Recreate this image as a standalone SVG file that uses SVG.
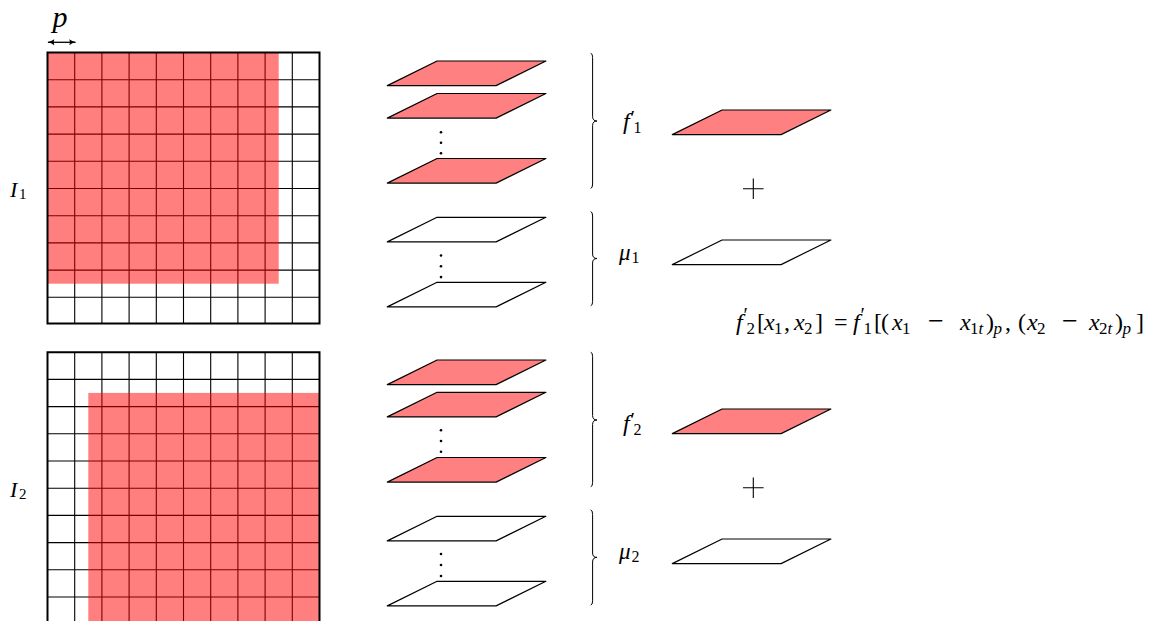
<svg xmlns="http://www.w3.org/2000/svg" width="1158" height="621" viewBox="0 0 1158 621">
<style>
.bg{fill:#fff}
.gl{stroke:#000;stroke-width:1.1;fill:none}
.gb{stroke:#000;stroke-width:2;fill:none}
.ov{fill:#ff0000;fill-opacity:0.5}
.pr{fill:#ff8080;stroke:#000;stroke-width:1.2;stroke-linejoin:round}
.pw{fill:#fff;stroke:#000;stroke-width:1.2;stroke-linejoin:round}
.br{fill:none;stroke:#000;stroke-width:1}
.i{font-style:italic}
.s{font-size:17px}
.pm{font-size:20px}
.mn{font-size:28px}
.dot{fill:#000}
.plus{stroke:#000;stroke-width:1.1}
</style>
<defs>
<polygon id="pl" points="0,24.6 108.8,24.6 158.6,0 49.8,0"/>
<marker id="ah" viewBox="0 0 10 10" refX="9" refY="5" markerWidth="7.5" markerHeight="7" orient="auto-start-reverse" markerUnits="userSpaceOnUse">
<path d="M0,0.8 Q4,4 10,5 Q4,6 0,9.2 Q2,5 0,0.8 Z" fill="#000"/>
</marker>
</defs>
<rect class="bg" x="0" y="0" width="1158" height="621"/>

<g id="grid1">
<path class="gl" d="M74.7,52.5V323.5M101.9,52.5V323.5M129.1,52.5V323.5M156.3,52.5V323.5M183.5,52.5V323.5M210.7,52.5V323.5M237.9,52.5V323.5M265.1,52.5V323.5M292.3,52.5V323.5M47.5,79.7H319.5M47.5,106.9H319.5M47.5,134.1H319.5M47.5,161.3H319.5M47.5,188.5H319.5M47.5,215.7H319.5M47.5,242.9H319.5M47.5,270.1H319.5M47.5,297.3H319.5"/>
<rect class="ov" x="47.5" y="52.5" width="231.2" height="231.2"/>
<rect class="gb" x="47.5" y="52.5" width="272" height="271"/>
</g>

<g id="grid2">
<path class="gl" d="M74.7,352.2V630M101.9,352.2V630M129.1,352.2V630M156.3,352.2V630M183.5,352.2V630M210.7,352.2V630M237.9,352.2V630M265.1,352.2V630M292.3,352.2V630M47.5,379.4H319.5M47.5,406.6H319.5M47.5,433.8H319.5M47.5,461H319.5M47.5,488.2H319.5M47.5,515.4H319.5M47.5,542.6H319.5M47.5,569.8H319.5M47.5,597H319.5"/>
<rect class="ov" x="88.3" y="392.9" width="231.2" height="240"/>
<path class="gb" d="M47.5,630V352.2H319.5V630"/>
</g>

<g id="stack1">
<use href="#pl" class="pr" x="387.3" y="61"/>
<use href="#pl" class="pr" x="387.3" y="93.5"/>
<use href="#pl" class="pr" x="387.3" y="158.5"/>
<circle class="dot" cx="441" cy="132.3" r="1.3"/>
<circle class="dot" cx="441" cy="142.8" r="1.3"/>
<circle class="dot" cx="441" cy="153.3" r="1.3"/>
<use href="#pl" class="pw" x="387.3" y="217.3"/>
<use href="#pl" class="pw" x="387.3" y="282.3"/>
<circle class="dot" cx="441" cy="255.5" r="1.3"/>
<circle class="dot" cx="441" cy="266.3" r="1.3"/>
<circle class="dot" cx="441" cy="277.1" r="1.3"/>
</g>

<g id="stack2">
<use href="#pl" class="pr" x="387.3" y="360"/>
<use href="#pl" class="pr" x="387.3" y="392.3"/>
<use href="#pl" class="pr" x="387.3" y="457.5"/>
<circle class="dot" cx="441" cy="430.3" r="1.3"/>
<circle class="dot" cx="441" cy="441" r="1.3"/>
<circle class="dot" cx="441" cy="451.7" r="1.3"/>
<use href="#pl" class="pw" x="387.3" y="516.3"/>
<use href="#pl" class="pw" x="387.3" y="581.3"/>
<circle class="dot" cx="441" cy="554" r="1.3"/>
<circle class="dot" cx="441" cy="565" r="1.3"/>
<circle class="dot" cx="441" cy="576" r="1.3"/>
</g>

<g id="braces">
<path class="br" d="M590.7,53.3Q592.6,53.3 592.6,57.5V116.5Q592.6,121 597,121Q592.6,121 592.6,125.5V184Q592.6,188.3 590.7,188.3"/>
<path class="br" d="M590.7,211.7Q592.6,211.7 592.6,216V254Q592.6,258.5 597,258.5Q592.6,258.5 592.6,263V301.5Q592.6,305.7 590.7,305.7"/>
<path class="br" d="M590.7,352.3Q592.6,352.3 592.6,356.5V415.5Q592.6,420 597,420Q592.6,420 592.6,424.5V482.5Q592.6,486.7 590.7,486.7"/>
<path class="br" d="M590.7,510Q592.6,510 592.6,514.5V553Q592.6,557.4 597,557.4Q592.6,557.4 592.6,562V600.8Q592.6,605 590.7,605"/>
</g>

<g id="sum1">
<use href="#pl" class="pr" x="672.3" y="110"/>
<path class="plus" d="M743,188.7H763.6M753.3,178.4V199"/>
<use href="#pl" class="pw" x="672.3" y="240"/>
</g>

<g id="sum2">
<use href="#pl" class="pr" x="672.3" y="409"/>
<path class="plus" d="M743,487.7H763.6M753.3,477.4V498"/>
<use href="#pl" class="pw" x="672.3" y="539"/>
</g>

<g id="labels" font-family="Liberation Serif, serif" font-size="24" fill="#000">
<g id="p-label">
<line x1="48" y1="42.3" x2="75.5" y2="42.3" stroke="#000" stroke-width="1.3" marker-start="url(#ah)" marker-end="url(#ah)"/>
<text class="i" x="60" y="27" text-anchor="middle" font-size="30">p</text>
</g>
<g id="I1"><text x="10" y="196.7" font-size="22"><tspan class="i">I</tspan><tspan x="19" y="199" font-size="15">1</tspan></text></g>
<g id="I2"><text x="10" y="497" font-size="22"><tspan class="i">I</tspan><tspan x="19" y="499.3" font-size="15">2</tspan></text></g>
<g id="f1-label"><text x="623" y="128.5"><tspan class="i">f</tspan><tspan class="pm" x="630.5" y="125">′</tspan><tspan x="633.5" y="133" font-size="16">1</tspan></text></g>
<g id="mu1-label"><text x="619" y="260" font-size="23"><tspan class="i">μ</tspan><tspan x="631.5" y="263" font-size="16">1</tspan></text></g>
<g id="f2-label"><text x="623" y="430.5"><tspan class="i">f</tspan><tspan class="pm" x="630.5" y="427">′</tspan><tspan x="633.5" y="435" font-size="16">2</tspan></text></g>
<g id="mu2-label"><text x="619" y="558.5" font-size="23"><tspan class="i">μ</tspan><tspan x="631.5" y="561.5" font-size="16">2</tspan></text></g>
<g id="formula"><text x="736" y="330"><tspan class="i">f</tspan><tspan class="pm" x="743.5" y="321.6">′</tspan><tspan class="s" x="746.5" y="333.5">2</tspan><tspan x="757" y="330">[</tspan><tspan class="i" x="764">x</tspan><tspan class="s" x="774" y="333.5">1</tspan><tspan x="784" y="330">,</tspan><tspan class="i" x="794">x</tspan><tspan class="s" x="804" y="333.5">2</tspan><tspan x="815" y="330">]</tspan><tspan x="834">=</tspan><tspan class="i" x="853">f</tspan><tspan class="pm" x="860.5" y="321.6">′</tspan><tspan class="s" x="863.5" y="333.5">1</tspan><tspan x="874" y="330">[</tspan><tspan x="881">(</tspan><tspan class="i" x="892">x</tspan><tspan class="s" x="902" y="333.5">1</tspan><tspan class="mn" x="928" y="330">−</tspan><tspan class="i" x="960" y="330">x</tspan><tspan class="s" x="970" y="333.5">1</tspan><tspan class="s i" x="978.5" y="333.5">t</tspan><tspan x="986" y="330">)</tspan><tspan class="s i" x="993.5" y="333.5">p</tspan><tspan x="1005" y="330">,</tspan><tspan x="1018">(</tspan><tspan class="i" x="1027">x</tspan><tspan class="s" x="1037" y="333.5">2</tspan><tspan class="mn" x="1062" y="330">−</tspan><tspan class="i" x="1089" y="330">x</tspan><tspan class="s" x="1099" y="333.5">2</tspan><tspan class="s i" x="1107.5" y="333.5">t</tspan><tspan x="1115" y="330">)</tspan><tspan class="s i" x="1122.5" y="333.5">p</tspan><tspan x="1136" y="330">]</tspan></text></g>
</g>
</svg>
